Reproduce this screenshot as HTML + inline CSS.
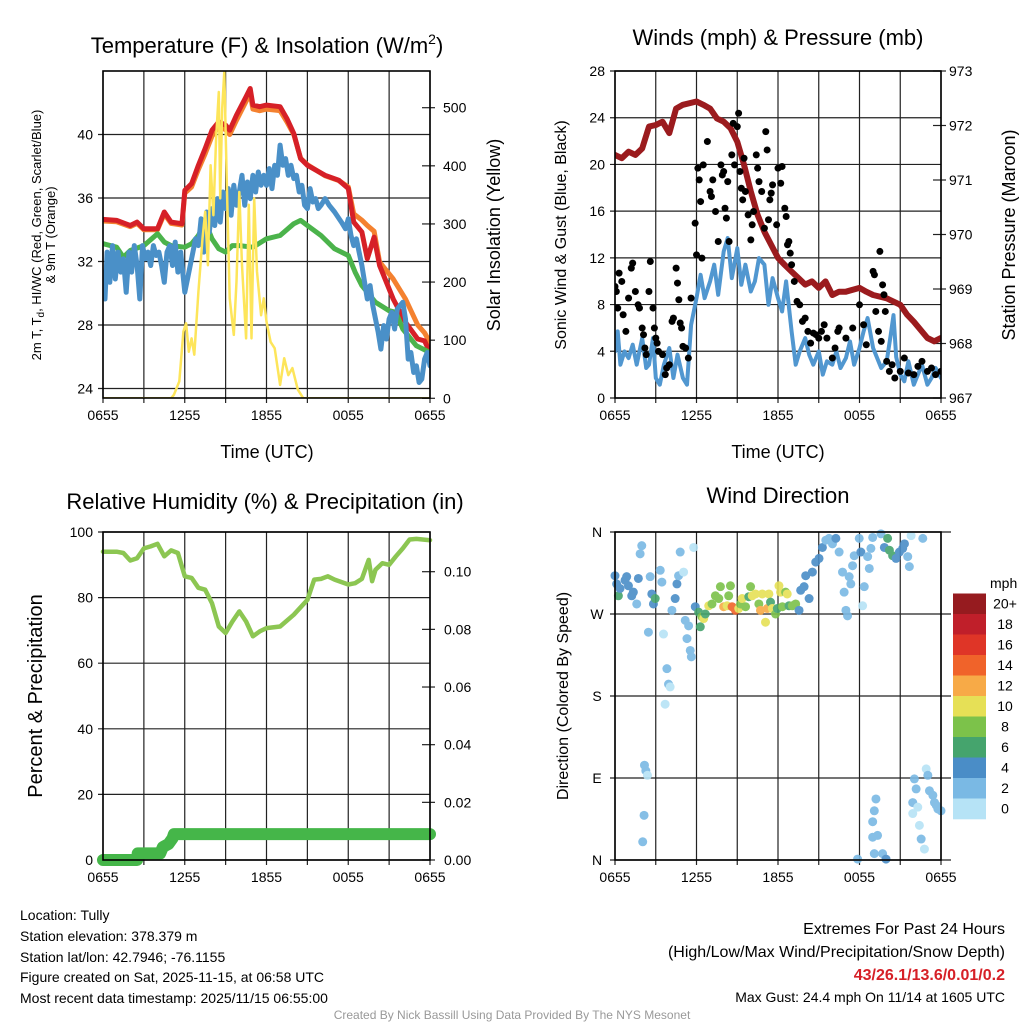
<!DOCTYPE html>
<html><head><meta charset="utf-8">
<style>
html,body{margin:0;padding:0;background:#fff;}
svg{display:block;font-family:"Liberation Sans",sans-serif;}
</style></head>
<body>
<svg id="chart" width="1024" height="1024" viewBox="0 0 1024 1024">
<text x="267" y="53" font-size="22" text-anchor="middle">Temperature (F) &amp; Insolation (W/m<tspan dy="-9" font-size="14">2</tspan><tspan dy="9">)</tspan></text>
<text x="778" y="45" font-size="22" text-anchor="middle">Winds (mph) &amp; Pressure (mb)</text>
<text x="265" y="509" font-size="22" text-anchor="middle">Relative Humidity (%) &amp; Precipitation (in)</text>
<text x="778" y="503" font-size="22" text-anchor="middle">Wind Direction</text>

<text x="267" y="458" font-size="18" text-anchor="middle">Time (UTC)</text>
<text x="778" y="458" font-size="18" text-anchor="middle">Time (UTC)</text>

<text transform="translate(41,235) rotate(-90)" font-size="13" text-anchor="middle">2m T, T<tspan dy="3" font-size="10">d</tspan><tspan dy="-3">, HI/WC (Red, Green, Scarlet/Blue)</tspan></text>
<text transform="translate(55,235) rotate(-90)" font-size="13" text-anchor="middle">&amp; 9m T (Orange)</text>
<text transform="translate(500,235) rotate(-90)" font-size="18" text-anchor="middle">Solar Insolation (Yellow)</text>
<text transform="translate(566,235) rotate(-90)" font-size="16" text-anchor="middle">Sonic Wind &amp; Gust (Blue, Black)</text>
<text transform="translate(1015,235) rotate(-90)" font-size="18" text-anchor="middle">Station Pressure (Maroon)</text>
<text transform="translate(42,696) rotate(-90)" font-size="20" text-anchor="middle">Percent &amp; Precipitation</text>
<text transform="translate(568,696) rotate(-90)" font-size="16" text-anchor="middle">Direction (Colored By Speed)</text>

<g font-size="14">
<text x="20" y="920">Location: Tully</text>
<text x="20" y="941">Station elevation: 378.379 m</text>
<text x="20" y="962">Station lat/lon: 42.7946; -76.1155</text>
<text x="20" y="982">Figure created on Sat, 2025-11-15, at 06:58 UTC</text>
<text x="20" y="1003">Most recent data timestamp: 2025/11/15 06:55:00</text>
</g>
<g text-anchor="end">
<text x="1005" y="934" font-size="16">Extremes For Past 24 Hours</text>
<text x="1005" y="957" font-size="16">(High/Low/Max Wind/Precipitation/Snow Depth)</text>
<text x="1005" y="980" font-size="16" font-weight="bold" fill="#d62027">43/26.1/13.6/0.01/0.2</text>
<text x="1005" y="1002" font-size="14">Max Gust: 24.4 mph On 11/14 at 1605 UTC</text>
</g>
<text x="512" y="1019" font-size="12" fill="#999" text-anchor="middle">Created By Nick Bassill Using Data Provided By The NYS Mesonet</text>
</svg>
<script>
// ---------- Panel 1: temperature ----------
const tHours = [0,1,2,2.5,3,4,4.5,5,5.8,6,6.5,7,7.5,8,8.5,9,9.3,9.8,10.5,10.8,11,11.5,12,13,13.5,14,14.5,15,16.3,17.3,18,18.4,19,19.4,19.9,20.3,21.3,22.2,23.1,23.6,24];
const redT = [34.65,34.59,34.27,34.48,34.06,34.06,35.12,34.48,34.38,36.48,36.9,38.06,39.12,40.27,40.8,40.59,40.27,41.22,42.38,42.9,41.85,41.75,41.85,41.75,41.0,40.06,38.48,38.06,37.43,37.12,36.6,34.48,33.85,32.17,33.54,31.75,29.64,28.17,27.12,27.0,26.27];
const orangeT = [34.55,34.5,34.2,34.4,34.0,34.0,35.0,34.4,34.3,36.3,36.7,37.8,38.8,39.9,40.5,40.3,40.0,40.9,42.1,42.6,41.6,41.5,41.6,41.5,40.8,40.0,38.5,38.1,37.4,37.1,36.7,35.0,34.6,34.27,33.9,31.96,30.9,29.64,28.0,27.5,26.9];
const blueHours = [0,0.15,0.3,0.5,0.7,0.9,1.1,1.3,1.5,1.7,1.9,2.1,2.3,2.5,2.7,2.9,3.1,3.3,3.5,3.7,3.9,4.1,4.3,4.5,4.7,4.9,5.1,5.3,5.5,5.7,6,6.2,6.4,6.6,6.8,7,7.2,7.4,7.6,7.8,8,8.2,8.4,8.6,8.8,9,9.2,9.4,9.6,9.8,10,10.2,10.4,10.6,10.8,11,11.2,11.4,11.6,11.8,12,12.2,12.4,12.6,12.8,13,13.2,13.4,13.6,13.8,14,14.2,14.4,14.6,14.8,15,15.2,15.4,15.6,15.8,16,16.3,16.6,17,17.5,17.8,18,18.2,18.4,18.6,18.8,19,19.2,19.4,19.6,19.8,20,20.2,20.4,20.6,20.8,21,21.2,21.4,21.6,21.8,22,22.2,22.4,22.6,22.8,23,23.2,23.4,23.6,23.8,24];
const blueT = [31.33,29.64,32.59,30.69,33.0,30.9,32.59,31.33,32.17,30.06,32.59,31.33,33.0,31.75,29.64,33.0,32.17,32.59,31.75,33.0,32.38,32.59,31.75,30.69,32.59,33.0,31.75,33.22,31.33,32.59,30.06,30.9,31.75,32.59,33.43,33.0,34.69,32.59,35.12,33.85,35.33,34.27,35.96,34.48,36.38,35.33,36.59,34.91,36.8,35.54,36.38,37.43,35.54,37.01,35.96,37.43,36.38,37.64,36.8,37.43,36.8,37.85,36.59,38.06,37.43,39.33,38.06,38.48,37.43,38.06,37.22,37.43,36.38,36.8,35.54,35.33,36.59,35.75,35.96,35.33,35.54,35.96,35.54,35.12,34.48,34.06,34.69,33.64,33.0,33.43,32.59,31.75,30.69,29.64,30.48,29.22,28.38,27.54,26.48,27.96,27.12,28.38,28.8,27.75,29.01,29.22,29.43,28.38,25.85,26.27,25.01,25.43,24.38,24.59,25.85,26.27,25.43,25.85];
const greenHours = [0,1,1.5,2,3,4,4.5,5,6,6.5,7,7.5,8,8.5,9,9.5,10,11,12,13,14,14.5,15,16,17,18,18.5,19,20,21,21.5,22,23,24];
const greenT = [33.12,32.9,32.27,32.69,33.0,33.75,33.22,33.0,32.9,33.12,33.64,34.48,33.43,32.8,32.59,33.0,33.0,32.9,33.43,33.64,34.38,34.59,34.27,33.64,32.8,32.38,31.33,30.48,29.43,28.9,28.8,27.75,26.69,26.27];
const solarHours = [0,5.0,5.2,5.6,5.9,6.1,6.3,6.5,6.7,7.0,7.3,7.5,7.7,7.9,8.1,8.3,8.5,8.6,8.75,8.9,9.1,9.3,9.6,9.8,10,10.2,10.5,10.7,10.9,11.1,11.3,11.6,11.8,12,12.3,12.6,13,13.3,13.6,13.9,14.3,14.7,24];
const solarW = [0,0,6,29,115,129,80,103,75,183,275,321,229,401,315,447,527,344,499,562,356,172,109,201,355,229,103,333,103,344,218,143,172,132,97,86,23,69,40,52,15,0,0];
const tTicks = [24,28,32,36,40];
const sTicks = [0,100,200,300,400,500];
const timeLabels = ["0655","1255","1855","0055","0655"];

// ---------- Panel 2: winds ----------
const presHours = [0,0.5,1,1.5,2,2.5,3,3.5,4,4.5,5,6,6.5,7,7.5,8,8.5,9,9.5,10,10.5,11,11.5,12,12.5,13,13.5,14,14.5,15,15.5,16,16.5,17,18,18.5,19,20,21,21.5,22,23,23.5,24];
const presMb = [971.46,971.40,971.52,971.46,971.58,971.98,972.01,972.07,971.86,972.31,972.38,972.44,972.38,972.31,972.13,972.07,971.95,971.70,971.28,970.79,970.36,970.05,969.81,969.57,969.44,969.32,969.20,969.08,969.14,969.02,969.14,968.89,968.95,968.95,969.02,968.95,968.89,968.83,968.71,968.53,968.40,968.10,968.04,968.10];
const windHours = [0,0.2,0.4,0.7,1,1.3,1.6,2,2.3,2.5,2.8,3,3.3,3.6,4,4.3,4.6,5,5.3,5.6,6,6.3,6.6,7,7.3,7.6,8,8.3,8.6,9,9.3,9.6,10,10.3,10.6,11,11.3,11.6,12,12.3,12.6,13,13.3,13.6,14,14.3,14.6,15,15.3,15.6,16,16.3,16.6,17,17.3,17.6,18,18.3,18.6,19,19.3,19.6,20,20.3,20.5,20.7,21,21.3,21.6,22,22.3,22.6,23,23.3,23.6,24];
const windMph = [3.99,5.70,2.85,3.99,3.42,4.56,2.85,5.13,2.57,2.85,5.13,1.71,1.14,2.85,4.28,1.71,3.71,1.71,1.14,6.27,8.55,10.55,8.55,9.98,11.41,8.84,12.55,13.69,10.27,12.83,9.69,11.41,9.12,9.98,11.98,11.41,7.98,10.27,8.55,7.41,9.98,5.70,2.85,3.99,5.13,3.71,2.85,3.99,2.0,3.14,2.85,3.99,2.57,3.42,4.85,2.85,4.28,5.70,6.84,4.28,3.42,2.57,3.14,5.4,7.1,3.5,2.0,1.43,3.14,1.14,2.0,2.85,1.14,1.71,2.57,1.71];
const gustHours = [0,0.1,0.2,0.3,0.5,0.6,0.8,1,1.2,1.3,1.5,1.7,1.8,2,2.1,2.2,2.3,2.5,2.6,2.8,2.9,3,3.1,3.2,3.5,3.7,3.8,4,4.2,4.3,4.5,4.6,4.7,4.8,4.9,5,5.2,5.4,5.6,5.9,6,6.1,6.2,6.3,6.4,6.5,6.8,7,7.1,7.2,7.4,7.6,7.8,7.9,8,8.1,8.2,8.3,8.4,8.6,8.7,8.8,9,9.1,9.2,9.3,9.4,9.5,9.6,9.8,10,10.1,10.2,10.4,10.5,10.6,10.8,11,11.1,11.2,11.3,11.4,11.5,11.6,11.9,12,12.2,12.3,12.5,12.6,12.7,12.8,12.9,13,13.2,13.4,13.6,13.8,14,14.2,14.4,14.6,14.8,15,15.2,15.4,15.6,16,16.2,16.4,16.5,17,17.5,18,18.3,18.5,19,19.1,19.2,19.4,19.5,19.6,19.7,19.8,19.9,20,20.2,20.4,20.6,21,21.3,21.6,22,22.3,22.6,23,23.3,23.6,24];
const gustMph = [9.55,9.12,7.70,10.69,9.98,7.13,5.70,8.55,11.12,11.55,9.12,7.98,7.70,5.99,5.42,4.28,3.71,9.12,11.69,7.70,5.99,5.13,4.70,3.99,3.71,2.0,2.57,2.85,6.56,6.84,11.12,9.84,8.41,6.42,5.99,4.42,4.28,3.42,8.55,14.97,12.26,19.68,18.68,16.82,11.98,19.96,21.96,17.68,17.25,18.68,15.97,13.40,19.96,19.10,19.39,16.25,15.40,18.53,13.40,20.82,23.52,19.96,23.24,24.38,19.39,17.96,16.97,20.53,17.68,15.68,13.54,14.83,15.97,20.82,19.68,18.53,17.68,14.54,22.81,21.24,15.26,16.97,17.54,18.25,14.83,19.68,18.39,19.82,16.25,15.54,13.12,13.40,12.40,11.41,9.98,8.27,7.98,6.56,6.84,5.70,4.70,5.56,5.42,5.13,5.70,6.27,5.13,3.42,4.28,5.70,5.99,5.13,5.99,7.98,6.27,4.56,10.84,10.55,7.41,5.70,12.55,4.85,9.69,8.84,7.41,3.14,2.28,2.85,1.71,2.28,3.42,2.14,2.0,2.71,3.14,2.28,2.57,2.0,2.28];
const windTicks = [0,4,8,12,16,20,24,28];
const presTicks = [967,968,969,970,971,972,973];

// ---------- Panel 3: humidity ----------
const rhHours = [0,1,1.5,2,2.5,3,3.5,4,4.5,5,5.5,6,6.5,7,7.5,8,8.5,9,9.5,10,10.5,11,11.5,12,13,14,15,15.5,16,16.5,17,18,18.5,19,19.5,19.75,20,20.5,21,21.5,22,22.5,23,24];
const rhPct = [94,94,93.6,91.3,92,95,95.6,96.4,92.6,94.4,93.6,86.5,86,83,82.4,78.3,71.2,69.2,72.7,75.8,72.7,68.2,69.7,70.7,71.2,74.8,79.3,85.5,85.7,86.5,85.5,84,84.4,85.7,91.5,85,88.5,90.5,90,92.6,95,97.7,97.9,97.5];
const pcpHours = [0,2.5,2.55,4.2,4.4,4.8,5.1,5.2,24];
const pcpIn = [0,0,0.0023,0.0023,0.0045,0.0055,0.0075,0.009,0.009];
const rhTicks = [0,20,40,60,80,100];
const pcpTicks = [0,0.02,0.04,0.06,0.08,0.10];

// ---------- Panel 4: wind direction ----------
const dirHours = [0,0.12,0.25,0.37,0.74,0.86,0.99,1.23,1.35,1.6,1.72,1.85,1.97,2.46,2.59,2.71,2.83,2.96,3.33,3.45,3.57,3.69,3.82,3.94,4.06,4.19,4.43,4.56,4.68,4.8,5.05,5.17,5.3,5.42,5.54,5.62,5.79,5.91,6.16,6.28,6.4,6.53,6.65,6.9,7.14,7.39,7.64,7.76,8.0,8.25,8.37,8.5,8.62,8.87,9.11,9.24,9.36,9.61,9.85,9.98,10.1,10.34,10.59,10.71,10.84,11.08,11.21,11.33,11.45,11.58,11.82,11.95,12.07,12.19,12.32,12.56,12.68,12.81,13.05,13.3,13.55,13.67,13.92,14.04,14.29,14.53,14.78,15.02,15.27,15.52,15.76,16.01,16.26,16.5,16.75,16.87,17.0,17.12,17.24,17.36,17.49,17.61,17.86,17.98,18.1,18.23,18.35,18.6,18.72,18.84,18.97,18.97,19.09,19.21,19.33,18.97,19.09,19.58,19.7,19.83,19.95,20.07,20.2,20.44,20.69,20.94,21.18,21.31,21.55,21.67,21.8,21.92,22.04,22.17,22.29,22.41,22.54,22.66,22.78,22.91,23.03,23.15,23.4,23.52,23.65,23.77,24.0,2.17,2.27,2.39,2.14,2.04,21.92];
const dirDeg = [312,303,290,298,307,311,301,290,294,281,309,336,345,250,311,292,281,287,318,305,248,171,210,193,190,274,287,303,312,338,316,263,243,257,230,223,343,278,272,256,267,265,270,279,281,290,287,300,278,279,290,301,278,274,276,281,287,278,289,300,290,292,281,274,292,261,276,292,283,276,270,276,301,294,278,294,292,279,279,281,274,296,300,312,287,316,327,331,343,351,353,347,353,338,316,294,274,268,311,303,323,334,1,353,338,279,300,333,320,342,354,42,54,67,27,25,7,358,7,343,1,353,340,334,331,338,342,347,333,322,356,63,89,78,58,38,23,353,12,100,93,76,71,63,60,56,54,104,98,93,49,20,51];
const dirSpeed = [5,5,7,5,5,5,5,5,5,3,5,3,3,3,3,5,5,7,3,3,1,1,3,3,1,3,5,5,3,3,1,3,3,3,3,3,1,5,7,7,9,11,7,11,9,9,9,9,13,11,9,9,15,15,11,9,11,9,7,9,11,11,9,13,11,11,13,11,7,11,9,7,11,11,9,9,11,7,9,9,5,5,5,5,5,5,5,5,5,3,3,3,5,3,3,3,3,3,3,3,3,3,3,3,5,1,3,3,3,3,3,3,3,3,3,3,3,3,3,5,5,7,7,7,5,5,5,5,3,3,1,3,3,3,1,1,3,3,1,1,3,3,3,3,3,3,3,3,3,1,3,3,1];
const dirTicks = [0,90,180,270,360];
const dirLabels = ["N","E","S","W","N"];
const speedBins = ["0","2","4","6","8","10","12","14","16","18","20+"];

// ---------- drawing ----------
const NS = "http://www.w3.org/2000/svg";
const svg = document.getElementById("chart");
function mk(tag, attrs, parent) {
  const e = document.createElementNS(NS, tag);
  for (const k in attrs) e.setAttribute(k, attrs[k]);
  (parent || svg).appendChild(e);
  return e;
}
function scale(d0, d1, r0, r1) { return v => r0 + (v - d0) / (d1 - d0) * (r1 - r0); }
function pathFrom(xs, ys, fx, fy) {
  return xs.map((h, i) => (i ? "L" : "M") + fx(h).toFixed(1) + "," + fy(ys[i]).toFixed(1)).join("");
}
function frame(x0, x1, y0, y1, name) {
  const g = mk("g", {});
  
  
  return g;
}
function vgrid(g, x0, x1, y0, y1, labels) {
  for (let i = 0; i <= 8; i++) {
    const x = x0 + i * (x1 - x0) / 8;
    const l = mk("line", {x1: x, x2: x, y1: y0, y2: y1 + 5, stroke: "#222", "stroke-width": 1.2}, g);
    
    
  }
  if (labels) labels.forEach((t, i) => {
    const tx = mk("text", {x: x0 + i * (x1 - x0) / 4, y: y1 + 22, "font-size": 14, "text-anchor": "middle"}, g);
    tx.textContent = t;
    
    
  });
}
function hgrid(g, vals, fy, x0, x1, lx, anchor, labels, fmt) {
  vals.forEach((v, i) => {
    const y = fy(v);
    const l = mk("line", {x1: x0 - 5, x2: x1, y1: y, y2: y, stroke: "#222", "stroke-width": 1.2}, g);
    
    
    const t = mk("text", {x: lx, y: y + 5, "font-size": 14, "text-anchor": anchor}, g);
    t.textContent = labels ? labels[i] : (fmt ? fmt(v) : v);
    
    
  });
}
function rticks(g, vals, fy, x1, lx, fmt) {
  vals.forEach(v => {
    const y = fy(v);
    const l = mk("line", {x1: x1 - 8, x2: x1 + 5, y1: y, y2: y, stroke: "#222", "stroke-width": 1.2}, g);
    
    
    const t = mk("text", {x: lx, y: y + 5, "font-size": 14, "text-anchor": "start"}, g);
    t.textContent = fmt ? fmt(v) : v;
    
    
  });
}
function box(g, x0, x1, y0, y1) {
  const r = mk("rect", {x: x0, y: y0, width: x1 - x0, height: y1 - y0, fill: "none", stroke: "#000", "stroke-width": 1.6}, g);
  
  
}
function line(g, d, color, w, name) {
  const p = mk("path", {d: d, fill: "none", stroke: color, "stroke-width": w, "stroke-linejoin": "round", "stroke-linecap": "round"}, g);
  
  
}

// Panel 1
(function(){
  const x0 = 103, x1 = 430, y0 = 71, y1 = 398;
  const fx = scale(0, 24, x0, x1);
  const fy = scale(24, 28, 388.5, 325);
  const fs = scale(0, 500, 398.3, 107.7);
  const g = frame(x0, x1, y0, y1, "temperature-panel");
  vgrid(g, x0, x1, y0, y1, timeLabels);
  hgrid(g, tTicks, fy, x0, x1, x0 - 10, "end");
  rticks(g, sTicks, fs, x1, x1 + 13);
  const clip = mk("clipPath", {id: "c1"}, g);
  mk("rect", {x: x0, y: y0, width: x1 - x0, height: y1 - y0}, clip);
  const s = mk("g", {"clip-path": "url(#c1)"}, g);
  line(s, pathFrom(tHours, orangeT, fx, fy), "#f4812f", 5, "orange-9m-temp-line");
  line(s, pathFrom(tHours, redT, fx, fy), "#d62027", 5, "red-2m-temp-line");
  line(s, pathFrom(greenHours, greenT, fx, fy), "#4bb34b", 5, "green-dewpoint-line");
  line(s, pathFrom(blueHours, blueT, fx, fy), "#4a90c8", 5, "blue-windchill-line");
  line(s, pathFrom(solarHours, solarW, fx, fs), "#fde55a", 2.5, "yellow-insolation-line");
  box(g, x0, x1, y0, y1);
})();

// Panel 2
(function(){
  const x0 = 615, x1 = 941, y0 = 71, y1 = 398;
  const fx = scale(0, 24, x0, x1);
  const fy = scale(0, 28, y1, y0);
  const fp = scale(967, 973, y1, y0);
  const g = frame(x0, x1, y0, y1, "winds-panel");
  vgrid(g, x0, x1, y0, y1, timeLabels);
  hgrid(g, windTicks, fy, x0, x1, x0 - 10, "end");
  rticks(g, presTicks, fp, x1, x1 + 8);
  const clip = mk("clipPath", {id: "c2"}, g);
  mk("rect", {x: x0, y: y0, width: x1 - x0, height: y1 - y0}, clip);
  const s = mk("g", {"clip-path": "url(#c2)"}, g);
  line(s, pathFrom(presHours, presMb, fx, fp), "#9b1b1e", 6, "pressure-line");
  line(s, pathFrom(windHours, windMph, fx, fy), "#5197d0", 4, "sonic-wind-line");
  gustHours.forEach((h, i) => {
    const c = mk("circle", {cx: fx(h), cy: fy(gustMph[i]), r: 3.5, fill: "#000"}, s);
    
    
  });
  box(g, x0, x1, y0, y1);
})();

// Panel 3
(function(){
  const x0 = 103, x1 = 430, y0 = 532, y1 = 860;
  const fx = scale(0, 24, x0, x1);
  const fy = scale(0, 100, y1, y0);
  const fp = scale(0, 0.1, y1, 571.7);
  const g = frame(x0, x1, y0, y1, "humidity-panel");
  vgrid(g, x0, x1, y0, y1, timeLabels);
  hgrid(g, rhTicks, fy, x0, x1, x0 - 10, "end");
  rticks(g, pcpTicks, fp, x1, x1 + 14, v => v.toFixed(2));
  line(g, pathFrom(rhHours, rhPct, fx, fy), "#8cc652", 4.5, "humidity-line");
  line(g, pathFrom(pcpHours, pcpIn, fx, fp), "#45b649", 12, "precipitation-line");
  box(g, x0, x1, y0, y1);
})();

// Panel 4
(function(){
  const x0 = 615, x1 = 941, y0 = 532, y1 = 860;
  const fx = scale(0, 24, x0, x1);
  const fy = scale(0, 360, y1, y0);
  const g = frame(x0, x1, y0, y1, "wind-direction-panel");
  vgrid(g, x0, x1, y0, y1, timeLabels);
  hgrid(g, dirTicks, fy, x0, x1 + 10, x0 - 18, "middle", dirLabels);
  const colors = ["#b6e3f6","#7ab9e4","#4a8dc7","#45a46d","#7cc24a","#e6e056","#f7aa47","#f0632a","#df3527","#c01f2a","#961b1f"];
  const s = mk("g", {opacity: 0.9}, g);
  dirHours.forEach((h, i) => {
    const bin = Math.min(10, Math.floor(dirSpeed[i] / 2));
    const c = mk("circle", {cx: fx(h), cy: fy(dirDeg[i]), r: 4.5, fill: colors[bin]}, s);
    
    
  });
  box(g, x0, x1, y0, y1);
  const lg = mk("g", {});
  
  
  const t = mk("text", {x: 990, y: 588, "font-size": 14}, lg);
  t.textContent = "mph";
  
  
  const top = 593.5, hh = 20.5;
  speedBins.forEach((lab, i) => {
    const k = 10 - i;
    const r = mk("rect", {x: 953, y: top + i * hh, width: 33, height: hh + 0.3, fill: colors[k]}, lg);
    
    
    const tl = mk("text", {x: 1005, y: top + i * hh + 15, "font-size": 14, "text-anchor": "middle"}, lg);
    tl.textContent = speedBins[k];
    
    
  });
})();
</script>
</body></html>
